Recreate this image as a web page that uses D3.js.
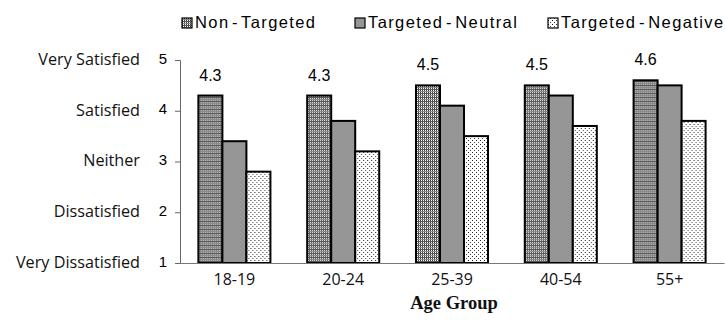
<!DOCTYPE html>
<html>
<head>
<meta charset="utf-8">
<script src="https://cdn.jsdelivr.net/npm/d3@7"></script>
<style>
  html, body { margin: 0; padding: 0; background: #fff; }
  svg { display: block; }
</style>
</head>
<body>
<svg id="chart" width="725" height="324"></svg>
<script>
const categories = ["18-19", "20-24", "25-39", "40-54", "55+"];
const seriesNames = ["Non - Targeted", "Targeted - Neutral", "Targeted - Negative"];
const nonTargeted = [4.3, 4.3, 4.5, 4.5, 4.6];
const targetedNeutral = [3.4, 3.8, 4.1, 4.3, 4.5];
const targetedNegative = [2.8, 3.2, 3.5, 3.7, 3.8];
const yTickValues = [1, 2, 3, 4, 5];
const yTickLabels = ["Very Dissatisfied", "Dissatisfied", "Neither", "Satisfied", "Very Satisfied"];
const xTitle = "Age Group";

const seriesValues = [nonTargeted, targetedNeutral, targetedNegative];

const svg = d3.select("#chart");
const defs = svg.append("defs");

const p1 = defs.append("pattern").attr("id", "pat0").attr("patternUnits", "userSpaceOnUse")
  .attr("width", 4).attr("height", 4);
p1.append("rect").attr("width", 4).attr("height", 4).attr("fill", "#fff");
p1.append("rect").attr("x", 0).attr("y", 0).attr("width", 1).attr("height", 4).attr("fill", "#3a3a3a");
p1.append("rect").attr("x", 2).attr("y", 0).attr("width", 1).attr("height", 4).attr("fill", "#3a3a3a");
p1.append("rect").attr("x", 0).attr("y", 1).attr("width", 4).attr("height", 1).attr("fill", "#5a5a5a");
p1.append("rect").attr("x", 0).attr("y", 3).attr("width", 4).attr("height", 1).attr("fill", "#8a8a8a");

const p3 = defs.append("pattern").attr("id", "pat2").attr("patternUnits", "userSpaceOnUse")
  .attr("width", 4).attr("height", 4);
p3.append("rect").attr("width", 4).attr("height", 4).attr("fill", "#fff");
p3.append("rect").attr("x", 0).attr("y", 0).attr("width", 1).attr("height", 1).attr("fill", "#222");
p3.append("rect").attr("x", 2).attr("y", 2).attr("width", 1).attr("height", 1).attr("fill", "#444");

const fills = ["url(#pat0)", "#969696", "url(#pat2)"];

const margin = { left: 180, right: 1, top: 60, bottom: 61 };
const width = 725, height = 324;

const x0 = d3.scaleBand().domain(categories)
  .range([margin.left, width - margin.right])
  .paddingInner(0.338).paddingOuter(0.169);
const x1 = d3.scaleBand().domain(d3.range(seriesNames.length)).range([0, x0.bandwidth()]);
const y = d3.scaleLinear().domain([1, 5]).range([height - margin.bottom, margin.top]);

const yAxis = d3.axisLeft(y).tickValues(yTickValues).tickSize(5).tickFormat(d3.format("d"));
const gy = svg.append("g").attr("transform", `translate(${margin.left},0)`).call(yAxis);
gy.select(".domain").attr("stroke", "#666").attr("stroke-width", 1);
gy.selectAll(".tick line").attr("stroke", "#666");
gy.selectAll(".tick text").attr("font-family", "Liberation Sans, Arial, sans-serif")
  .attr("font-size", 15).attr("fill", "#000").attr("x", -13).attr("dy", "0.2em");

svg.append("g").selectAll("text").data(yTickValues).join("text")
  .attr("x", 140).attr("y", d => y(d)).attr("dy", "0.3em")
  .attr("text-anchor", "end")
  .attr("font-family", "'Open Sans', sans-serif")
  .attr("font-size", 16.2).attr("fill", "#111")
  .text((d, i) => yTickLabels[i]);

const groups = svg.append("g").selectAll("g").data(categories).join("g")
  .attr("transform", d => `translate(${x0(d)},0)`);
groups.selectAll("rect").data((c, ci) => seriesValues.map((vals, si) => ({ si, v: vals[ci] })))
  .join("rect")
  .attr("x", d => x1(d.si))
  .attr("y", d => y(d.v))
  .attr("width", x1.bandwidth())
  .attr("height", d => y(1) - y(d.v))
  .attr("fill", d => fills[d.si])
  .attr("stroke", "#000").attr("stroke-width", 2);

groups.append("text")
  .datum((c, ci) => nonTargeted[ci])
  .attr("x", x1(0) + x1.bandwidth() / 2)
  .attr("y", d => y(d) - 15)
  .attr("text-anchor", "middle")
  .attr("font-family", "Liberation Sans, Arial, sans-serif")
  .attr("font-size", 16).attr("fill", "#000")
  .text(d => d3.format(".1f")(d));

const xAxis = d3.axisBottom(x0).tickSize(0).tickPadding(11);
const gx = svg.append("g").attr("transform", `translate(0,${y(1)})`).call(xAxis);
gx.select(".domain").attr("stroke", "#777").attr("stroke-width", 1.2);
gx.selectAll(".tick text").attr("font-family", "'Open Sans', sans-serif")
  .attr("font-size", 16).attr("fill", "#111");

svg.append("text")
  .attr("x", (margin.left + width - margin.right) / 2 + 2)
  .attr("y", 309)
  .attr("text-anchor", "middle")
  .attr("font-family", "'Liberation Serif', serif")
  .attr("font-weight", "bold")
  .attr("font-size", 18.5).attr("fill", "#111")
  .text(xTitle);

const legendX = [182, 355, 548];
const lg = svg.append("g").selectAll("g").data(seriesNames).join("g")
  .attr("transform", (d, i) => `translate(${legendX[i]},0)`);
lg.append("rect").attr("x", 0).attr("y", 18).attr("width", 10).attr("height", 10)
  .attr("fill", (d, i) => fills[i]).attr("stroke", "#000").attr("stroke-width", 1.2);
lg.append("text").attr("x", 13).attr("y", 28)
  .attr("font-family", "Liberation Sans, Arial, sans-serif")
  .attr("font-size", 16.5).attr("letter-spacing", 1.4).attr("word-spacing", -3.5).attr("fill", "#000")
  .text(d => d);
</script>
</body>
</html>
